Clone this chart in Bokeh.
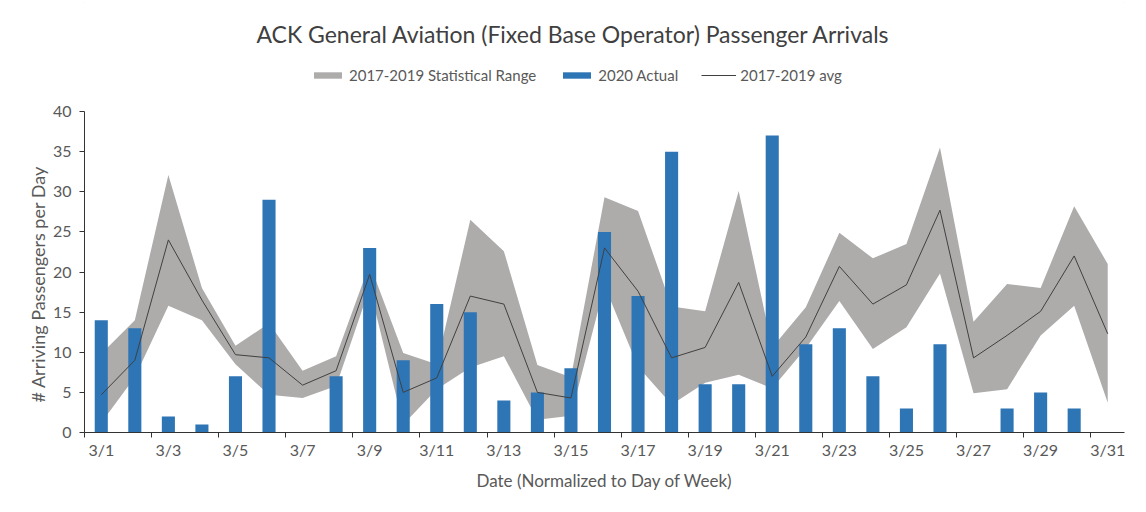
from bokeh.plotting import figure
from bokeh.models import (Range1d, FixedTicker, Legend, LegendItem, Label, Title, ColumnDataSource)
from bokeh.embed import file_html
from bokeh.resources import INLINE

# ---- data ----
dates = ["3/1", "3/2", "3/3", "3/4", "3/5", "3/6", "3/7", "3/8", "3/9", "3/10",
         "3/11", "3/12", "3/13", "3/14", "3/15", "3/16", "3/17", "3/18", "3/19", "3/20",
         "3/21", "3/22", "3/23", "3/24", "3/25", "3/26", "3/27", "3/28", "3/29", "3/30", "3/31"]
actual_2020 = [14, 13, 2, 1, 7, 29, 0, 7, 23, 9, 16, 15, 4, 5, 8, 25, 17, 35, 6, 6,
               37, 11, 13, 7, 3, 11, 0, 3, 5, 3, 0]
avg_1719 = [4.7, 9.0, 24.0, 16.5, 9.7, 9.3, 5.9, 7.7, 19.7, 5.0, 6.8, 17.0, 16.0, 5.0, 4.3,
            23.0, 17.6, 9.3, 10.6, 18.7, 7.0, 11.9, 20.7, 16.0, 18.4, 27.7, 9.3, 12.1, 15.1, 22.0, 12.3]
range_upper = [9.8, 14.0, 32.1, 18.0, 10.8, 13.6, 7.7, 9.5, 21.0, 9.9, 8.5, 26.5, 22.6, 8.4, 6.9,
               29.3, 27.6, 15.7, 15.1, 30.1, 10.6, 15.6, 24.9, 21.7, 23.5, 35.5, 13.8, 18.5, 18.0, 28.2, 21.0]
range_lower = [1.2, 6.9, 15.8, 14.0, 8.5, 4.7, 4.3, 5.8, 18.0, 1.0, 5.4, 8.1, 9.5, 1.6, 2.1,
               18.3, 8.2, 3.5, 6.2, 7.2, 5.5, 10.5, 16.4, 10.4, 13.1, 19.8, 4.9, 5.4, 12.1, 15.8, 3.7]
y_ticks = [0, 5, 10, 15, 20, 25, 30, 35, 40]
Y_MAX = 40

pos = list(range(1, len(dates) + 1))
src = ColumnDataSource(dict(x=pos, date=dates, actual=actual_2020, avg=avg_1719,
                            upper=range_upper, lower=range_lower))

FONT = "Lato"
TXT = "#595959"

# frame extends to the top of the canvas so title/legend live inside it;
# the plotted value axis (0-40) occupies the lower 321 px.
PLOT_H = 321
TOP_H = 111
FRAME_H = PLOT_H + TOP_H
p = figure(frame_width=1040, frame_height=FRAME_H,
           min_border_left=84, min_border_right=22, min_border_top=0, min_border_bottom=80,
           x_range=Range1d(0.5, len(dates) + 0.5),
           y_range=Range1d(0, Y_MAX * FRAME_H / PLOT_H),
           output_backend="svg", toolbar_location=None, tools="",
           styles={"outline": "1px solid #D9D9D9", "outline-offset": "-3px"})
p.outline_line_color = None
p.xgrid.grid_line_color = None
p.ygrid.grid_line_color = None
p.background_fill_color = "white"
p.border_fill_color = "white"

band = p.varea(x="x", y1="lower", y2="upper", source=src, fill_color="#AEABAB")
bars = p.vbar(x="x", top="actual", width=0.39, source=src, fill_color="#2E75B6",
              line_color=None)
line = p.line(x="x", y="avg", source=src, line_color="#404040", line_width=1)

# x axis: labels every other day at centers, tick marks at pair boundaries
odd = pos[::2]
boundaries = [x - 0.5 for x in pos[::2]]
xa = p.xaxis[0]
xa.ticker = FixedTicker(ticks=odd, minor_ticks=boundaries)
xa.major_label_overrides = {x: dates[x - 1] for x in odd}
xa.major_tick_line_color = None
xa.major_tick_in = 0
xa.major_tick_out = 0
xa.minor_tick_in = 0
xa.minor_tick_out = 5
xa.minor_tick_line_color = "#333333"
xa.axis_line_color = "#333333"
xa.major_label_standoff = 2
xa.major_label_text_font = FONT
xa.major_label_text_font_size = "16px"
xa.major_label_text_color = TXT
xa.axis_label = "Date (Normalized to Day of Week)"
xa.axis_label_text_font = FONT
xa.axis_label_text_font_size = "17px"
xa.axis_label_text_font_style = "normal"
xa.axis_label_text_color = TXT
xa.axis_label_standoff = 8

ya = p.yaxis[0]
ya.ticker = FixedTicker(ticks=y_ticks)
ya.bounds = (0, Y_MAX)
ya.major_tick_in = 0
ya.major_tick_out = 5
ya.minor_tick_line_color = None
ya.major_tick_line_color = "#333333"
ya.axis_line_color = "#333333"
ya.major_label_text_font = FONT
ya.major_label_text_font_size = "16px"
ya.major_label_text_color = TXT
ya.major_label_standoff = 8

# y-axis title as a side-panel Title, anchored from the bottom of the frame
ytitle = Title(text="# Arriving Passengers per Day", align="left", offset=30,
               text_font=FONT, text_font_size="18px", text_font_style="normal",
               text_color=TXT, standoff=2)
p.add_layout(ytitle, "left")

# chart title placed in the top strip of the frame (screen px from frame's bottom-left)
title = Label(x=489, y=FRAME_H - 33, x_units="screen", y_units="screen",
              text="ACK General Aviation (Fixed Base Operator) Passenger Arrivals",
              text_font=FONT, text_font_size="23px", text_color="#404040",
              text_align="center", text_baseline="middle")
p.add_layout(title)

legend = Legend(items=[LegendItem(label="2017-2019 Statistical Range", renderers=[band]),
                       LegendItem(label="2020 Actual", renderers=[bars]),
                       LegendItem(label="2017-2019 avg", renderers=[line])],
                orientation="horizontal", location=(226, FRAME_H - 85),
                glyph_width=35, glyph_height=8, label_standoff=4, spacing=23,
                padding=0, margin=0, border_line_color=None, background_fill_alpha=0,
                label_text_font=FONT, label_text_font_size="15px", label_text_color=TXT,
                label_height=20)
p.add_layout(legend, "center")

open("out.html", "w").write(file_html(p, INLINE))
